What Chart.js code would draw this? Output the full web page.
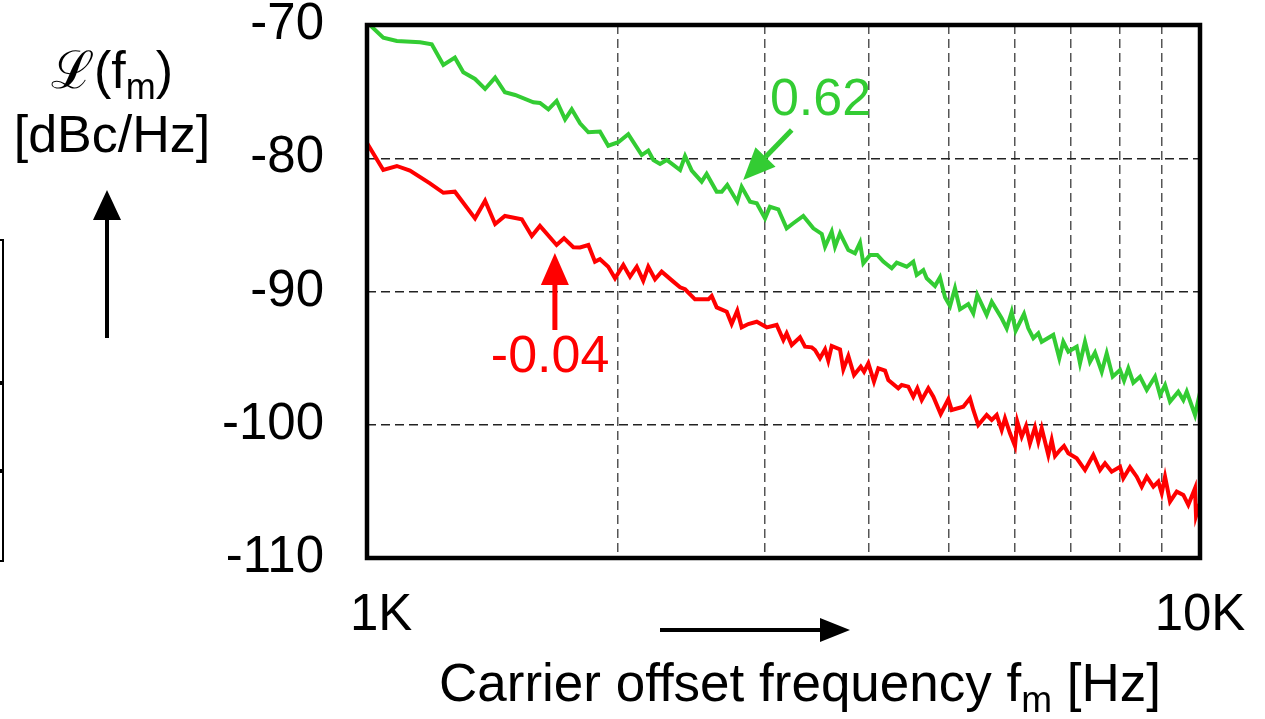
<!DOCTYPE html>
<html>
<head>
<meta charset="utf-8">
<title>Phase noise</title>
<script src="https://cdn.jsdelivr.net/npm/chart.js@4/dist/chart.umd.min.js"></script>
<style>
  html, body { margin: 0; padding: 0; background: #fff; }
  #wrap { width: 1265px; height: 719px; }
</style>
</head>
<body>
<div id="wrap"><canvas id="noiseChart" width="1265" height="719"></canvas></div>
<script>
// Measured single-sideband phase noise, two oscillator settings
const greenFreq = [1000, 1046, 1086, 1158, 1196, 1235, 1275, 1305, 1348, 1386, 1425, 1464, 1506, 1584, 1613,
  1651, 1689, 1729, 1761, 1802, 1844, 1904, 1948, 2003, 2059, 2137, 2176, 2207, 2248, 2290, 2376, 2409, 2454,
  2522, 2557, 2629, 2666, 2707, 2783, 2817, 2883, 2937, 3005, 3046, 3117, 3190, 3249, 3340, 3434, 3515, 3547,
  3613, 3646, 3697, 3783, 3853, 3907, 3943, 4017, 4098, 4167, 4265, 4324, 4445, 4527, 4570, 4654, 4698, 4807,
  4874, 4942, 5011, 5080, 5151, 5270, 5344, 5403, 5545, 5623, 5780, 5861, 5942, 6008, 6148, 6221, 6308, 6396,
  6456, 6666, 6778, 6853, 6949, 7112, 7177, 7277, 7378, 7481, 7621, 7727, 7856, 8017, 8106, 8203, 8317, 8472,
  8631, 8831, 8954, 9079, 9205, 9418, 9550, 9640, 9863, 9954, 10000];
const greenLevel = [-69.8, -70.95, -71.2, -71.3, -71.45, -73.0, -72.45, -73.55, -74.05, -74.8, -73.95, -75.05,
  -75.25, -75.8, -75.85, -76.33, -75.7, -77.08, -76.33, -77.38, -78.05, -78.0, -79.06, -78.8, -78.2, -79.76,
  -79.43, -80.13, -80.43, -80.13, -80.88, -79.83, -80.93, -81.76, -81.18, -82.51, -82.51, -82.01, -83.26,
  -82.14, -83.26, -83.38, -84.51, -83.64, -83.83, -85.26, -84.88, -84.33, -85.26, -85.68, -86.64, -85.51,
  -86.64, -85.63, -86.89, -87.13, -86.34, -87.88, -87.26, -87.26, -87.76, -88.26, -87.84, -88.14, -87.76,
  -88.76, -88.39, -89.01, -89.59, -88.93, -90.44, -91.09, -89.76, -91.34, -90.94, -91.64, -90.26, -91.76,
  -90.77, -92.01, -92.76, -91.52, -92.94, -91.69, -92.76, -93.51, -93.14, -93.77, -93.26, -95.01, -93.77,
  -94.52, -94.14, -95.39, -93.77, -95.27, -94.59, -96.02, -94.64, -96.39, -95.89, -96.69, -95.76, -96.84,
  -96.39, -97.39, -96.39, -97.77, -97.02, -98.27, -97.52, -98.14, -97.52, -99.27, -98.14, -98.74];

const redFreq = [1000, 1046, 1086, 1126, 1190, 1235, 1275, 1348, 1386, 1425, 1464, 1534, 1577, 1613, 1689,
  1724, 1769, 1802, 1844, 1878, 1904, 1948, 1985, 2031, 2069, 2108, 2146, 2176, 2217, 2258, 2332, 2376, 2409,
  2476, 2569, 2593, 2629, 2703, 2740, 2783, 2817, 2869, 2937, 3019, 3103, 3161, 3190, 3235, 3310, 3356, 3419,
  3450, 3498, 3547, 3579, 3613, 3697, 3731, 3783, 3843, 3915, 3951, 3998, 4061, 4110, 4187, 4225, 4343, 4384,
  4465, 4527, 4578, 4634, 4719, 4785, 4883, 4987, 5034, 5198, 5295, 5344, 5418, 5545, 5623, 5701, 5780, 5833,
  5914, 5997, 6035, 6109, 6182, 6250, 6337, 6396, 6456, 6575, 6637, 6698, 6791, 6867, 6949, 7112, 7277, 7446,
  7585, 7691, 7834, 8017, 8090, 8241, 8395, 8512, 8631, 8790, 8912, 8996, 9079, 9205, 9377, 9550, 9682, 9863,
  9891, 10000];
const redLevel = [-78.86, -80.88, -80.58, -80.93, -81.88, -82.59, -82.51, -84.51, -83.19, -84.93, -84.33,
  -84.58, -85.84, -85.08, -86.51, -86.01, -86.68, -86.7, -86.51, -87.76, -87.58, -88.14, -89.01, -88.01,
  -88.89, -88.14, -89.19, -88.14, -89.08, -88.51, -89.26, -89.68, -89.83, -90.59, -90.59, -90.34, -91.19,
  -91.52, -92.44, -91.44, -92.69, -92.44, -92.27, -92.69, -92.51, -93.64, -93.14, -94.02, -93.44, -94.14,
  -94.19, -94.39, -95.01, -94.34, -95.19, -94.09, -94.34, -95.84, -94.84, -96.27, -95.64, -96.02, -95.39,
  -96.77, -95.76, -95.94, -96.64, -97.26, -97.02, -97.14, -97.89, -97.26, -98.14, -97.26, -97.89, -99.19,
  -98.09, -98.89, -98.65, -98.02, -98.89, -100.02, -99.27, -99.64, -99.27, -100.39, -99.52, -100.64, -101.6,
  -99.77, -100.9, -100.09, -101.39, -100.19, -101.27, -100.27, -102.27, -101.14, -102.35, -101.9, -101.6,
  -102.14, -102.52, -103.4, -102.27, -103.4, -102.89, -103.52, -103.15, -104.02, -103.19, -103.9, -104.65,
  -103.9, -104.65, -104.27, -105.14, -103.9, -105.77, -105.02, -105.27, -106.02, -104.77, -106.85, -105.9];

const freqTicks = [1000, 2000, 3000, 4000, 5000, 6000, 7000, 8000, 9000, 10000];
const levelTicks = [-110, -100, -90, -80, -70];

// slope labels next to each trace
const slopeNotes = [
  { text: '0.62', color: '#33cc33', textFreq: 3046, textLevel: -76.75, align: 'left',
    tailFreq: 3235, tailLevel: -77.88, tipFreq: 2829, tipLevel: -81.63 },
  { text: '-0.04', color: '#ff0000', textFreq: 1659, textLevel: -96.04, align: 'center',
    tailFreq: 1681, tailLevel: -92.89, tipFreq: 1681, tipLevel: -87.11 }
];

const FONT = "'Liberation Sans', Arial, sans-serif";

function toPoints(xs, ys) {
  return xs.map((x, i) => ({ x: x, y: ys[i] }));
}

// filled arrow from (x1,y1) to tip (x2,y2)
function drawArrow(ctx, x1, y1, x2, y2, color, lw, headLen, headHalf) {
  const ang = Math.atan2(y2 - y1, x2 - x1);
  const bx = x2 - headLen * Math.cos(ang);
  const by = y2 - headLen * Math.sin(ang);
  ctx.save();
  ctx.strokeStyle = color;
  ctx.fillStyle = color;
  ctx.lineWidth = lw;
  ctx.beginPath();
  ctx.moveTo(x1, y1);
  ctx.lineTo(bx, by);
  ctx.stroke();
  ctx.beginPath();
  ctx.moveTo(x2, y2);
  ctx.lineTo(bx + headHalf * Math.sin(ang), by - headHalf * Math.cos(ang));
  ctx.lineTo(bx - headHalf * Math.sin(ang), by + headHalf * Math.cos(ang));
  ctx.closePath();
  ctx.fill();
  ctx.restore();
}

const decorations = {
  id: 'decorations',
  afterDraw(chart) {
    const ctx = chart.ctx;
    const area = chart.chartArea;
    const xs = chart.scales.x;
    const ys = chart.scales.y;

    // plot frame
    ctx.save();
    ctx.strokeStyle = '#000';
    ctx.lineWidth = 4.5;
    ctx.strokeRect(area.left, area.top, area.right - area.left, area.bottom - area.top);
    ctx.restore();

    ctx.save();
    ctx.fillStyle = '#000';
    ctx.textBaseline = 'alphabetic';

    // y axis title: script L(f_m) over [dBc/Hz]
    const big = '52px ' + FONT;
    const sub = '36px ' + FONT;
    ctx.font = big;
    const p1 = '\u2112(f';
    const p3 = ')';
    const w1 = ctx.measureText(p1).width;
    const w3 = ctx.measureText(p3).width;
    ctx.font = sub;
    const w2 = ctx.measureText('m').width;
    let tx = 112 - (w1 + w2 + w3) / 2;
    ctx.font = big;
    ctx.fillText(p1, tx, 88);
    ctx.font = sub;
    ctx.fillText('m', tx + w1, 99);
    ctx.font = big;
    ctx.fillText(p3, tx + w1 + w2, 88);
    ctx.textAlign = 'center';
    ctx.fillText('[dBc/Hz]', 112, 152);
    ctx.textAlign = 'left';

    // x axis title
    const title = '53px ' + FONT;
    const titleSub = '37px ' + FONT;
    ctx.font = title;
    const a = 'Carrier offset frequency f';
    const c = ' [Hz]';
    const wa = ctx.measureText(a).width;
    const wc = ctx.measureText(c).width;
    ctx.font = titleSub;
    const wb = ctx.measureText('m').width;
    tx = 800 - (wa + wb + wc) / 2;
    ctx.font = title;
    ctx.fillText(a, tx, 701);
    ctx.font = titleSub;
    ctx.fillText('m', tx + wa, 712);
    ctx.font = title;
    ctx.fillText(c, tx + wa + wb, 701);
    ctx.restore();

    // direction arrows for the axes
    drawArrow(ctx, 107, 338, 107, 190, '#000', 4, 30, 14);
    drawArrow(ctx, 660, 630, 850, 630, '#000', 4, 30, 12);

    // slope annotations
    slopeNotes.forEach(n => {
      drawArrow(ctx, xs.getPixelForValue(n.tailFreq), ys.getPixelForValue(n.tailLevel),
        xs.getPixelForValue(n.tipFreq), ys.getPixelForValue(n.tipLevel), n.color, 5, 32, 14);
      ctx.save();
      ctx.font = big;
      ctx.fillStyle = n.color;
      ctx.textAlign = n.align;
      ctx.fillText(n.text, xs.getPixelForValue(n.textFreq), ys.getPixelForValue(n.textLevel));
      ctx.restore();
    });

    // table edges at the left margin
    ctx.save();
    ctx.strokeStyle = '#000';
    ctx.lineWidth = 2;
    [[240, 382], [384, 470], [472, 561]].forEach(r => {
      ctx.strokeRect(-10, r[0], 13, r[1] - r[0]);
    });
    ctx.restore();
  }
};

new Chart(document.getElementById('noiseChart'), {
  type: 'line',
  data: {
    datasets: [
      {
        label: 'green',
        data: toPoints(greenFreq, greenLevel),
        borderColor: '#33cc33',
        borderWidth: 4,
        pointRadius: 0,
        tension: 0
      },
      {
        label: 'red',
        data: toPoints(redFreq, redLevel),
        borderColor: '#ff0000',
        borderWidth: 4,
        pointRadius: 0,
        tension: 0
      }
    ]
  },
  options: {
    responsive: false,
    animation: false,
    layout: {
      autoPadding: false,
      padding: { left: 0, right: 65, top: 25, bottom: 0 }
    },
    scales: {
      x: {
        type: 'logarithmic',
        min: 1000,
        max: 10000,
        afterBuildTicks: function(scale) {
          scale.ticks = freqTicks.map(v => ({ value: v }));
        },
        afterFit: function(scale) {
          scale.height = 161;
          scale.paddingLeft = 0;
          scale.paddingRight = 0;
        },
        grid: {
          color: '#555',
          lineWidth: 1.5,
          drawTicks: false
        },
        border: { display: false, dash: [9, 5] },
        ticks: {
          autoSkip: false,
          maxRotation: 0,
          padding: 27,
          color: '#000',
          font: { family: FONT, size: 51 },
          callback: function(value) {
            if (value === 1000) return '  1K';
            if (value === 10000) return '10K';
            return '';
          }
        }
      },
      y: {
        min: -110,
        max: -70,
        afterBuildTicks: function(scale) {
          scale.ticks = levelTicks.map(v => ({ value: v }));
        },
        afterFit: function(scale) {
          scale.width = 367;
          scale.paddingTop = 0;
          scale.paddingBottom = 0;
        },
        grid: {
          color: '#222',
          lineWidth: 1.5,
          drawTicks: false
        },
        border: { display: false, dash: [9, 5] },
        ticks: {
          padding: 43,
          color: '#000',
          font: { family: FONT, size: 51 },
          callback: function(value) {
            return String(value);
          }
        }
      }
    },
    plugins: {
      legend: { display: false },
      tooltip: { enabled: false }
    }
  },
  plugins: [decorations]
});
</script>
</body>
</html>
